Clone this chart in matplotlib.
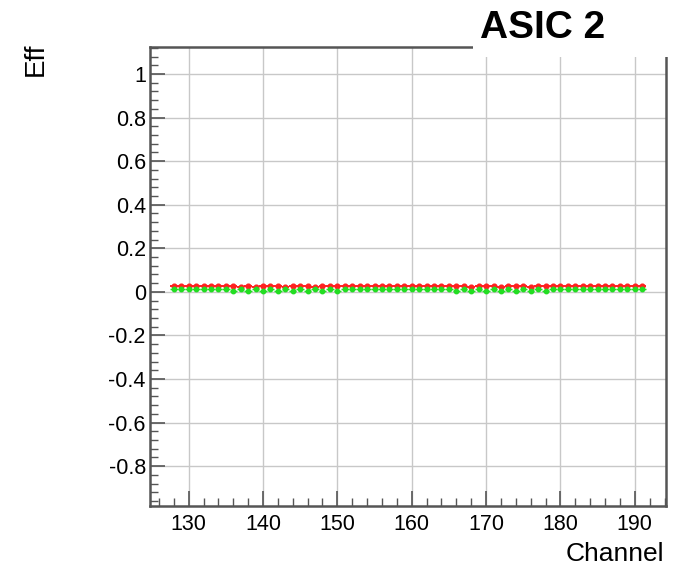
import matplotlib
matplotlib.use("Agg")
import matplotlib.pyplot as plt
from matplotlib.ticker import MultipleLocator
from matplotlib.patches import Rectangle

channels = list(range(128, 192))
eff_red = [0.028, 0.027, 0.029, 0.028, 0.027, 0.029, 0.028, 0.027,
           0.026, 0.024, 0.027, 0.024, 0.026, 0.025, 0.027, 0.024,
           0.027, 0.025, 0.028, 0.024, 0.026, 0.025, 0.027, 0.025,
           0.028, 0.027, 0.029, 0.028, 0.027, 0.029, 0.028, 0.027,
           0.028, 0.027, 0.029, 0.028, 0.027, 0.028, 0.025, 0.027,
           0.024, 0.026, 0.025, 0.027, 0.024, 0.026, 0.025, 0.027,
           0.024, 0.026, 0.025, 0.027, 0.028, 0.027, 0.029, 0.028,
           0.027, 0.029, 0.028, 0.027, 0.028, 0.029, 0.027, 0.028]
eff_green = [0.014, 0.013, 0.014, 0.012, 0.014, 0.013, 0.014, 0.012,
             0.005, 0.012, 0.004, 0.013, 0.005, 0.012, 0.004, 0.013,
             0.005, 0.012, 0.004, 0.013, 0.005, 0.012, 0.004, 0.014,
             0.013, 0.014, 0.012, 0.014, 0.013, 0.014, 0.012, 0.013,
             0.014, 0.012, 0.014, 0.013, 0.014, 0.012, 0.004, 0.013,
             0.005, 0.012, 0.004, 0.013, 0.005, 0.012, 0.004, 0.013,
             0.005, 0.012, 0.004, 0.014, 0.013, 0.014, 0.012, 0.014,
             0.013, 0.014, 0.012, 0.013, 0.014, 0.012, 0.014, 0.013]

title = "ASIC 2"
xlabel = "Channel"
ylabel = "Eff"

plt.rcParams['font.family'] = ['Liberation Sans', 'DejaVu Sans']

fig = plt.figure(figsize=(6.75, 5.68), dpi=100)
ax = fig.add_axes([150/675, 1-506/568, (666-150)/675, (506-47)/568])

ax.errorbar(channels, eff_red, xerr=0.5, fmt='o', color='#ff2020', ms=3.4,
            elinewidth=1.4, capsize=0, zorder=3)
ax.errorbar(channels, eff_green, xerr=0.5, fmt='o', color='#22dd22', ms=3.2,
            elinewidth=1.0, capsize=0, zorder=4)

ax.set_xlim(124.8, 194.2)
ax.set_ylim(-0.983, 1.124)

ax.xaxis.set_major_locator(MultipleLocator(10))
ax.xaxis.set_minor_locator(MultipleLocator(2))
ax.yaxis.set_major_locator(MultipleLocator(0.2))
ax.yaxis.set_minor_locator(MultipleLocator(0.04))

ax.grid(True, which='major', color='#c8c8c8', linewidth=1.0)
ax.set_axisbelow(True)

ax.tick_params(axis='both', which='major', direction='in', length=11, width=1.2,
               color='#555555', labelsize=15.5, pad=3)
ax.tick_params(axis='both', which='minor', direction='in', length=6, width=1.0,
               color='#555555')
ax.tick_params(top=False, right=False, which='both')
ax.tick_params(axis='x', pad=6)

ytick_vals = [-0.8, -0.6, -0.4, -0.2, 0, 0.2, 0.4, 0.6, 0.8, 1]
ax.set_yticks(ytick_vals)
ax.set_yticklabels([("%g" % v) for v in ytick_vals])

for s in ax.spines.values():
    s.set_color('#555555')
    s.set_linewidth(1.8)

fig.text(664/675, 1-561/568, xlabel, ha='right', va='baseline', fontsize=19)
fig.text(36/675, 1-43/568, ylabel, ha='center', va='top', rotation=90, fontsize=20)

# title box covering the top-right of the frame
fig.patches.append(Rectangle((473/675, 1-57/568), 1, 57/568, transform=fig.transFigure,
                             facecolor='white', edgecolor='none', zorder=10))
fig.text(543/675, 1-28/568, title, ha='center', va='center', fontsize=28,
         fontweight='bold', zorder=11)

fig.savefig("out.png", dpi=100)
